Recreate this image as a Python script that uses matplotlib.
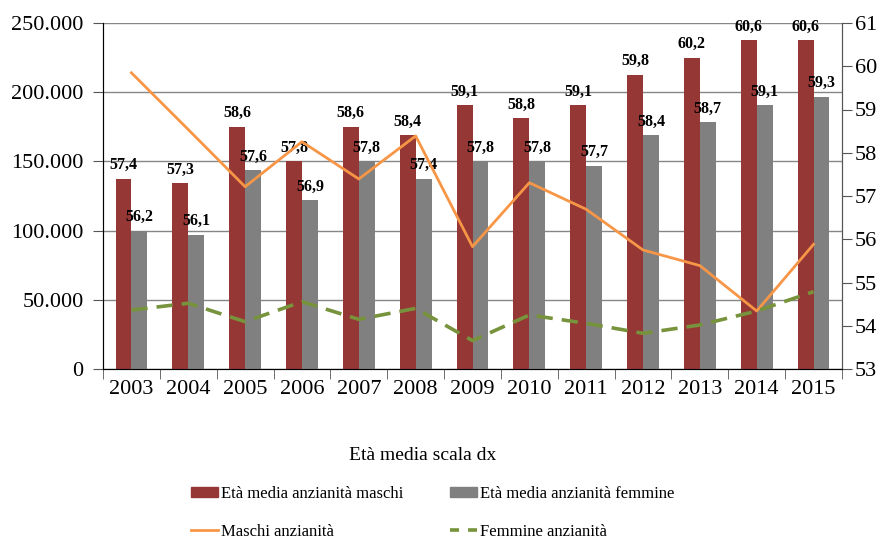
import matplotlib

matplotlib.use("Agg")
import matplotlib.pyplot as plt
import numpy as np
from matplotlib.lines import Line2D
from matplotlib.patches import Patch

plt.rcParams["font.family"] = ["Liberation Serif", "DejaVu Serif"]

years = ["2003", "2004", "2005", "2006", "2007", "2008", "2009",
         "2010", "2011", "2012", "2013", "2014", "2015"]
eta_maschi = [57.4, 57.3, 58.6, 57.8, 58.6, 58.4, 59.1, 58.8, 59.1, 59.8, 60.2, 60.6, 60.6]
eta_femmine = [56.2, 56.1, 57.6, 56.9, 57.8, 57.4, 57.8, 57.8, 57.7, 58.4, 58.7, 59.1, 59.3]
maschi_anz = [214000, 173000, 131700, 164200, 137300, 168400, 88400,
              134600, 115400, 86000, 74700, 41900, 90100]
femmine_anz = [42600, 47500, 34200, 48600, 35900, 43800, 20500,
               39000, 33000, 25800, 31800, 41900, 55900]

C_MASCHI = "#953735"
C_FEMMINE = "#808080"
C_LINE_M = "#F79646"
C_LINE_F = "#77933C"
GRID = "#868686"

x = np.arange(len(years))
w = 0.28

fig = plt.figure(figsize=(8.82, 5.40), dpi=100)
ax = fig.add_axes([103 / 882, 1 - 369 / 540, (842 - 103) / 882, (369 - 23) / 540])

# left scale: gridlines + ticks
ax.set_ylim(0, 250000)
ax.set_xlim(-0.5, len(years) - 0.5)
ax.set_yticks(np.arange(0, 250001, 50000))
ax.set_yticklabels([f"{v:,.0f}".replace(",", ".") for v in ax.get_yticks()], fontsize=16)
ax.grid(axis="y", color=GRID, lw=1)
ax.set_axisbelow(True)
ax.set_xticks(x)
ax.set_xticklabels(years, fontsize=16)
ax.set_xticks(np.arange(-0.5, len(years)), minor=True)
ax.tick_params(axis="x", which="major", length=0, pad=8)
ax.tick_params(axis="x", which="minor", length=7, color="#555555")
ax.tick_params(axis="y", length=7, color="#555555", pad=7)
ax.spines["top"].set_visible(False)
for s in ("left", "bottom", "right"):
    ax.spines[s].set_color("#555555")

# right scale: bars
ax2 = ax.twinx()
ax2.set_ylim(53, 61)
ax2.set_yticks(range(53, 62))
ax2.tick_params(axis="y", labelsize=16, length=7, color="#555555", pad=2)
ax2.spines["top"].set_visible(False)
ax2.spines["right"].set_color("#555555")
bm = ax2.bar(x - w / 2, eta_maschi, w, color=C_MASCHI, zorder=2)
bf = ax2.bar(x + w / 2, eta_femmine, w, color=C_FEMMINE, zorder=2)
lab_kw = dict(fontsize=11.5, fontweight="bold", padding=4)
ax2.bar_label(bm, labels=[f"{v:.1f}".replace(".", ",") for v in eta_maschi], **lab_kw)
ax2.bar_label(bf, labels=[f"{v:.1f}".replace(".", ",") for v in eta_femmine], **lab_kw)

# lines on left scale, drawn over the bars
ax3 = ax.twinx()
ax3.set_ylim(0, 250000)
ax3.axis("off")
ax3.plot(x, maschi_anz, color=C_LINE_M, lw=2)
ax3.plot(x, femmine_anz, color=C_LINE_F, lw=2.6, dashes=(4.5, 2.5))

fig.text(423 / 882, 1 - 455 / 540, "Età media scala dx", ha="center", va="center", fontsize=14)

handles = [
    Patch(color=C_MASCHI), Line2D([], [], color=C_LINE_M, lw=2),
    Patch(color=C_FEMMINE), Line2D([], [], color=C_LINE_F, lw=2.6, dashes=(2.5, 2.5)),
]
labels = ["Età media anzianità maschi", "Maschi anzianità",
          "Età media anzianità femmine", "Femmine anzianità"]
fig.legend(handles, labels, ncol=2, loc="center", bbox_to_anchor=(433 / 882, 1 - 513 / 540),
           frameon=False, fontsize=12, handlelength=1.6, handleheight=0.55, handletextpad=0.2,
           columnspacing=2.8, labelspacing=1.3)

fig.savefig("out.png", dpi=100)
